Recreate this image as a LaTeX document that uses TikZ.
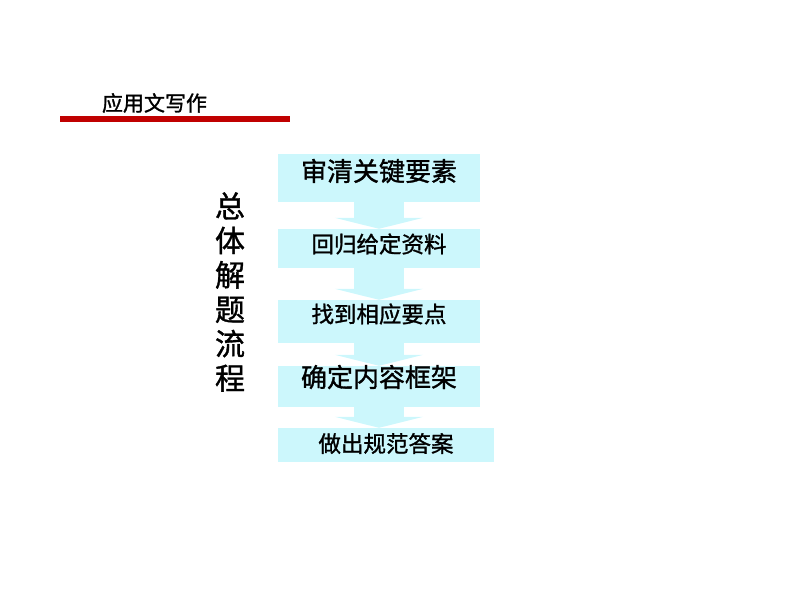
\documentclass[tikz,border=0pt]{standalone}
\usepackage{fontspec}
\setmainfont{Noto Sans CJK SC}[FakeBold=1.2]
\usepackage{tikz}
\usetikzlibrary{arrows.meta}
\definecolor{boxcyan}{RGB}{204,247,252}
\definecolor{barred}{RGB}{192,0,0}
\tikzstyle{bx}=[fill=boxcyan,inner sep=0pt,minimum width=202pt]
\tikzstyle{fl}=[draw=boxcyan,line width=50pt,-{Triangle[width=88pt,length=11pt]}]
\tikzstyle{big}=[font=\fontsize{26pt}{30pt}\selectfont]
\tikzstyle{small}=[font=\fontsize{22.5pt}{26pt}\selectfont]

\begin{document}
\begin{tikzpicture}[x=1pt,y=-1pt]
            \useasboundingbox (0,0) rectangle (800,600);
            \node[font=\fontsize{21pt}{24pt}\selectfont] (title) at (154.5, 103) {应用文写作}
            ;
            \coordinate (barL) at (60, 119);
            \coordinate (barR) at (290, 119);
            \draw[barred, line width=6pt] (barL) -- (barR);
            \node[font=\fontsize{30pt}{34.4pt}\selectfont, align=center, inner sep=0pt] (flow) at (230, 292)
                {总\\体\\解\\题\\流\\程}
            ;
            % boxes
            \node[bx, minimum height=48pt] (b1) at (379, 178) {};
            \node[bx, minimum height=39pt] (b2) at (379, 248.5) {};
            \node[bx, minimum height=43pt] (b3) at (379, 321.5) {};
            \node[bx, minimum height=41pt] (b4) at (379, 386.5) {};
            \node[bx, minimum width=216pt, minimum height=34pt] (b5) at (386, 445) {};
            \draw[fl] (b1.south) -- (b2.north);
            \draw[fl] (b2.south) -- (b3.north);
            \draw[fl] (b3.south) -- (b4.north);
            \draw[fl] (b4.south) -- (b4.south |- b5.north);
            % labels
            \node[big] (t1) at ([yshift=7pt]b1.center) {审清关键要素};
            \node[small] (t2) at ([yshift=4.5pt]b2.center) {回归给定资料};
            \node[small] (t3) at ([yshift=7.5pt]b3.center) {找到相应要点};
            \node[big] (t4) at ([yshift=9.5pt]b4.center) {确定内容框架};
            \node[small] (t5) at ([yshift=1.5pt]b5.center) {做出规范答案};
        \end{tikzpicture}
\end{document}
